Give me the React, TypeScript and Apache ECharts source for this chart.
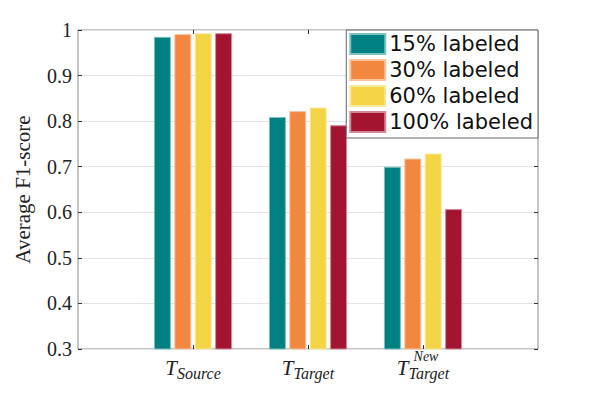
import React, { useEffect, useRef } from "react";
import * as echarts from "echarts";

const seriesNames = ["15% labeled", "30% labeled", "60% labeled", "100% labeled"];
const categorySubs = ["Source", "Target", "Target"];
const categorySups = ["", "", "New"];
const values15 = [0.985, 0.809, 0.7];
const values30 = [0.991, 0.822, 0.718];
const values60 = [0.993, 0.83, 0.729];
const values100 = [0.993, 0.791, 0.607];
const yTickLabels = ["0.3", "0.4", "0.5", "0.6", "0.7", "0.8", "0.9", "1"];
const colors = ["#008080", "#F2873F", "#F2D444", "#A2142F"];
const borders = ["#7fc0c0", "#f8c39f", "#f8e9a1", "#d08a97"];

const serif = "'Liberation Serif', 'DejaVu Serif', serif";

export default function App() {
  const ref = useRef<HTMLDivElement>(null);
  useEffect(() => {
    document.body.style.margin = "0";
    const chart = echarts.init(ref.current!, null, { renderer: "svg" });
    const pad = (arr: number[]) => [null, ...arr, null];
    const cats = ["", ...categorySubs.map((_, i) => "c" + i), ""];
    const allValues = [values15, values30, values60, values100];
    const tickStyle = { show: true, inside: true, length: 4, lineStyle: { color: "#333", width: 1 } };
    const option: any = {
      animation: false,
      backgroundColor: "#fff",
      grid: { left: 78, top: 30, right: 57, bottom: 44, show: true, borderColor: "#8a8a8a", borderWidth: 1, backgroundColor: "transparent" },
      legend: {
        orient: "vertical",
        right: 57,
        top: 30,
        data: seriesNames,
        itemWidth: 35,
        itemHeight: 20,
        itemGap: 4,
        icon: "rect",
        padding: [3, 5, 5, 3],
        borderColor: "#666",
        borderWidth: 1,
        borderRadius: 0,
        backgroundColor: "#fff",
        textStyle: { fontFamily: "'DejaVu Sans', sans-serif", fontSize: 21, color: "#111", lineHeight: 20, padding: [0, 0, 0, -1] },
      },
      xAxis: [
        {
          type: "category",
          data: cats,
          boundaryGap: false,
          position: "bottom",
          axisLine: { show: false },
          axisTick: { ...tickStyle, interval: (i: number) => i > 0 && i < 4 },
          splitLine: { show: false },
          axisLabel: {
            interval: 0,
            margin: 8,
            formatter: (v: string, i: number) => {
              if (i === 0 || i === 4) return "";
              return "{T|T}{sub|" + categorySubs[i - 1] + "}";
            },
            rich: {
              T: { fontFamily: serif, fontStyle: "italic", fontSize: 21, lineHeight: 24, verticalAlign: "top", color: "#222" },
              sub: { fontFamily: serif, fontStyle: "italic", fontSize: 16, lineHeight: 24, padding: [8, 0, 0, 0], verticalAlign: "top", color: "#222" },
            },
          },
        },
        {
          type: "category",
          data: cats,
          boundaryGap: false,
          position: "top",
          axisLine: { show: false },
          axisTick: { ...tickStyle, interval: (i: number) => i > 0 && i < 4 },
          axisLabel: { show: false },
        },
        {
          type: "category",
          data: cats,
          boundaryGap: false,
          position: "bottom",
          axisLine: { show: false },
          axisTick: { show: false },
          axisLabel: {
            interval: 0,
            margin: 0,
            formatter: (v: string, i: number) => (i === 0 || i === 4 ? "" : categorySups[i - 1]),
            fontFamily: serif,
            fontStyle: "italic",
            fontSize: 14,
            lineHeight: 14,
            color: "#222",
            padding: [0, 0, 0, 6],
          },
        },
      ],
      yAxis: [
        {
          type: "value",
          min: 0.3,
          max: 1,
          interval: 0.1,
          name: "Average F1-score",
          nameLocation: "middle",
          nameGap: 45,
          nameTextStyle: { fontFamily: serif, fontSize: 21, color: "#222" },
          axisLine: { show: false },
          axisTick: tickStyle,
          splitLine: { show: true, lineStyle: { color: "#e3e3e3", width: 1 } },
          axisLabel: {
            margin: 6,
            fontFamily: serif,
            fontSize: 20,
            color: "#222",
            formatter: (v: number, i: number) => yTickLabels[i],
          },
        },
        {
          type: "value",
          min: 0.3,
          max: 1,
          interval: 0.1,
          position: "right",
          axisLine: { show: false },
          axisTick: tickStyle,
          splitLine: { show: false },
          axisLabel: { show: false },
        },
      ],
      series: allValues.map((vals, k) => ({
        name: seriesNames[k],
        type: "bar",
        xAxisIndex: 0,
        yAxisIndex: 0,
        data: pad(vals),
        barWidth: 17,
        barGap: "20%",
        itemStyle: { color: colors[k], borderColor: borders[k], borderWidth: 1 },
      })),
    };
    chart.setOption(option);
    return () => chart.dispose();
  }, []);
  return <div ref={ref} style={{ width: 595, height: 393 }} />;
}
